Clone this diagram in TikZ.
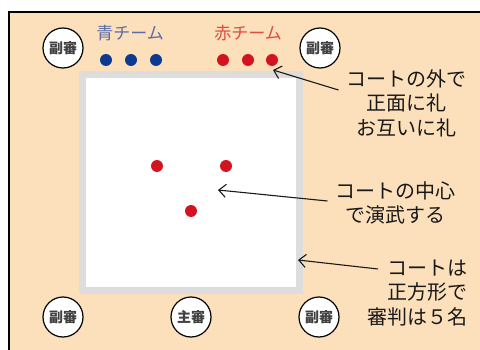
\documentclass[tikz,border=0pt]{standalone}
\usepackage{fontspec}
\setmainfont{Noto Sans CJK JP}
\usetikzlibrary{arrows.meta}
\definecolor{floor}{RGB}{252,224,187}
\definecolor{matgray}{RGB}{221,221,221}
\definecolor{bluelabel}{RGB}{92,106,168}
\definecolor{redlabel}{RGB}{224,76,60}
\definecolor{bluedot}{RGB}{12,58,143}
\definecolor{reddot}{RGB}{211,20,32}

\begin{document}
\begin{tikzpicture}[x=1pt,y=1pt,
    referee/.style={draw,circle,fill=white,line width=1.2pt,minimum size=40pt,inner sep=0,font=\fontsize{14}{14}\selectfont\bfseries,text=black!75},
    player/.style={circle,minimum size=12pt,inner sep=0},
    team/.style={font=\fontsize{17}{17}\selectfont},
    note/.style={font=\fontsize{20}{24.5}\selectfont,text=black!90},
    pointer/.style={-{Straight Barb[length=7pt,width=13pt]},line width=1.1pt,black!90}]
        \clip (0,0) rectangle (480,349);
        \draw[line width=2.5pt,fill=floor] (9,-10) rectangle (490,337);
        \draw[line width=7pt,draw=matgray,fill=white] (82.5,58.5) rectangle (299.5,274.5);
        % referees
        \node[referee] (r1) at (63,301) {副審};
        \node[referee] (r2) at (320,301) {副審};
        \node[referee] (r3) at (63,32) {副審};
        \node[referee] (r4) at (191,32) {主審};
        \node[referee] (r5) at (319,32) {副審};
        % teams
        \node[team,text=bluelabel] (blue) at (130,316) {青チーム};
        \node[team,text=redlabel] (red) at (248,316) {赤チーム};
        \foreach \x [count=\i] in {106,131,156} \node[player,fill=bluedot] (b\i) at (\x,289) {};
        \foreach \x [count=\i] in {223,248,272} \node[player,fill=reddot] (w\i) at (\x,289) {};
        \node[player,fill=reddot] (p1) at (157,183) {};
        \node[player,fill=reddot] (p2) at (226,183) {};
        \node[player,fill=reddot] (p3) at (191,138) {};
        % notes
        \node[note,align=center] (outside) at (406,246) {コートの外で\\正面に礼\\お互いに礼};
        \node[note,align=center] (center) at (395,146) {コートの中心\\で演武する};
        \node[note,align=right,anchor=east] (square) at (471,56) {コートは\\正方形で\\審判は５名};
        \coordinate (edge) at (273,279);
        \coordinate (mid) at (218,159);
        \coordinate (side) at (298,89);
        \draw[pointer] ([shift={(-4,13)}]outside.west) -- (edge);
        \draw[pointer] ([shift={(-4,2)}]center.west) -- (mid);
        \draw[pointer] ([shift={(-93,24)}]square.east) -- (side);
      \end{tikzpicture}
\end{document}
